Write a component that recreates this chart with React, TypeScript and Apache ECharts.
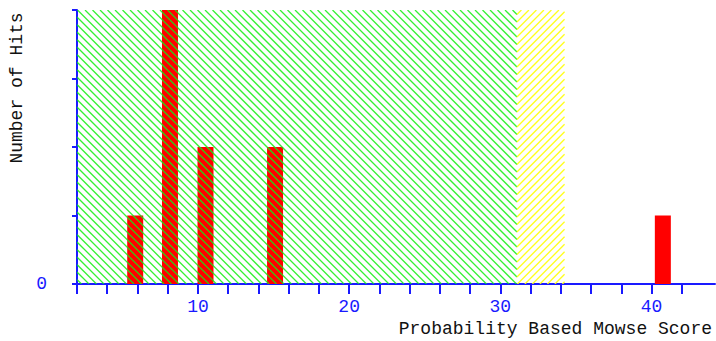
import React, { useEffect, useRef } from "react";
import * as echarts from "echarts";

const scores = [5.85, 8.15, 10.5, 15.1, 40.75];
const hits = [1, 4, 2, 2, 1];
const zoneStarts = [2, 31.1];
const zoneEnds = [31.1, 34.25];
const zoneColors = ["#11ee11", "#ffff11"];
const zoneDirections = ["back", "forward"];
const xTickValues = [2, 4, 6, 8, 10, 12, 14, 16, 18, 20, 22, 24, 26, 28, 30, 32, 34, 36, 38, 40, 42];
const xLabelValues = [10, 20, 30, 40];
const yTickValues = [0, 1, 2, 3, 4];
const yLabelValues = [0];
const xTitle = "Probability Based Mowse Score";
const yTitle = "Number of Hits";

const FONT = "'Liberation Mono', 'DejaVu Sans Mono', monospace";
const BLUE = "#1a1aff";
const SPACING = 7.5;

export default function App() {
  const ref = useRef<HTMLDivElement>(null);
  useEffect(() => {
    document.body.style.margin = "0";
    const chart = echarts.init(ref.current!, null, { renderer: "svg" });
    const barData = scores.map((s, i) => [s, hits[i]]);
    const zoneData = zoneStarts.map((s, i) => [s, zoneEnds[i], i]);
    chart.setOption({
      animation: false,
      grid: { left: 77, right: 1, top: 10, bottom: 57 },
      xAxis: {
        type: "value",
        min: 2,
        max: 44.2,
        interval: 2,
        splitLine: { show: false },
        axisLine: { show: true, lineStyle: { color: BLUE, width: 2 } },
        axisTick: { show: true, length: 10, customValues: xTickValues, lineStyle: { color: BLUE, width: 2 } },
        axisLabel: { customValues: xLabelValues, color: BLUE, fontFamily: FONT, fontSize: 18, margin: 14 },
      },
      yAxis: {
        type: "value",
        min: 0,
        max: 4,
        interval: 1,
        splitLine: { show: false },
        axisLine: { show: true, lineStyle: { color: BLUE, width: 2 } },
        axisTick: { show: true, length: 5, customValues: yTickValues, lineStyle: { color: BLUE, width: 2 } },
        axisLabel: { customValues: yLabelValues, color: BLUE, fontFamily: FONT, fontSize: 18, margin: 30 },
      },
      series: [
        {
          type: "bar",
          data: barData,
          barWidth: 16,
          itemStyle: { color: "#ff0000" },
          z: 2,
        },
        {
          type: "custom",
          data: zoneData,
          encode: { x: [0, 1] },
          silent: true,
          z: 3,
          clip: true,
          renderItem: (params: any, api: any) => {
            const cs = params.coordSys;
            const X0 = api.coord([api.value(0), 0])[0];
            const X1 = api.coord([api.value(1), 0])[0];
            const Y0 = cs.y;
            const Y1 = cs.y + cs.height;
            const idx = api.value(2);
            const dir = zoneDirections[idx];
            const color = zoneColors[idx];
            const children: any[] = [];
            if (dir === "back") {
              const cStart = Math.floor((X0 - Y1) / SPACING) * SPACING;
              for (let c = cStart; c <= X1 - Y0; c += SPACING) {
                const ya = Math.max(Y0, X0 - c);
                const yb = Math.min(Y1, X1 - c);
                if (yb > ya) {
                  children.push({
                    type: "line",
                    shape: { x1: c + ya, y1: ya, x2: c + yb, y2: yb },
                    style: { stroke: color, lineWidth: 1.3, opacity: 0.85 },
                  });
                }
              }
            } else {
              const phase = ((2 * X0) % SPACING + SPACING) % SPACING;
              const cStart = Math.floor((X0 + Y0 - phase) / SPACING) * SPACING + phase;
              for (let c = cStart; c <= X1 + Y1; c += SPACING) {
                const ya = Math.max(Y0, c - X1);
                const yb = Math.min(Y1, c - X0);
                if (yb > ya) {
                  children.push({
                    type: "line",
                    shape: { x1: c - ya, y1: ya, x2: c - yb, y2: yb },
                    style: { stroke: color, lineWidth: 1.3, opacity: 0.95 },
                  });
                }
              }
            }
            return { type: "group", children };
          },
        },
      ],
      graphic: [
        {
          type: "text",
          right: 4,
          top: 320,
          style: { text: xTitle, font: `18px ${FONT}`, fill: "#111" },
        },
        {
          type: "text",
          x: 17,
          y: 88,
          rotation: Math.PI / 2,
          style: {
            text: yTitle,
            font: `18px ${FONT}`,
            fill: "#111",
            align: "center",
            verticalAlign: "middle",
          },
        },
      ],
    });
    return () => chart.dispose();
  }, []);
  return <div ref={ref} style={{ width: 716, height: 341 }} />;
}
